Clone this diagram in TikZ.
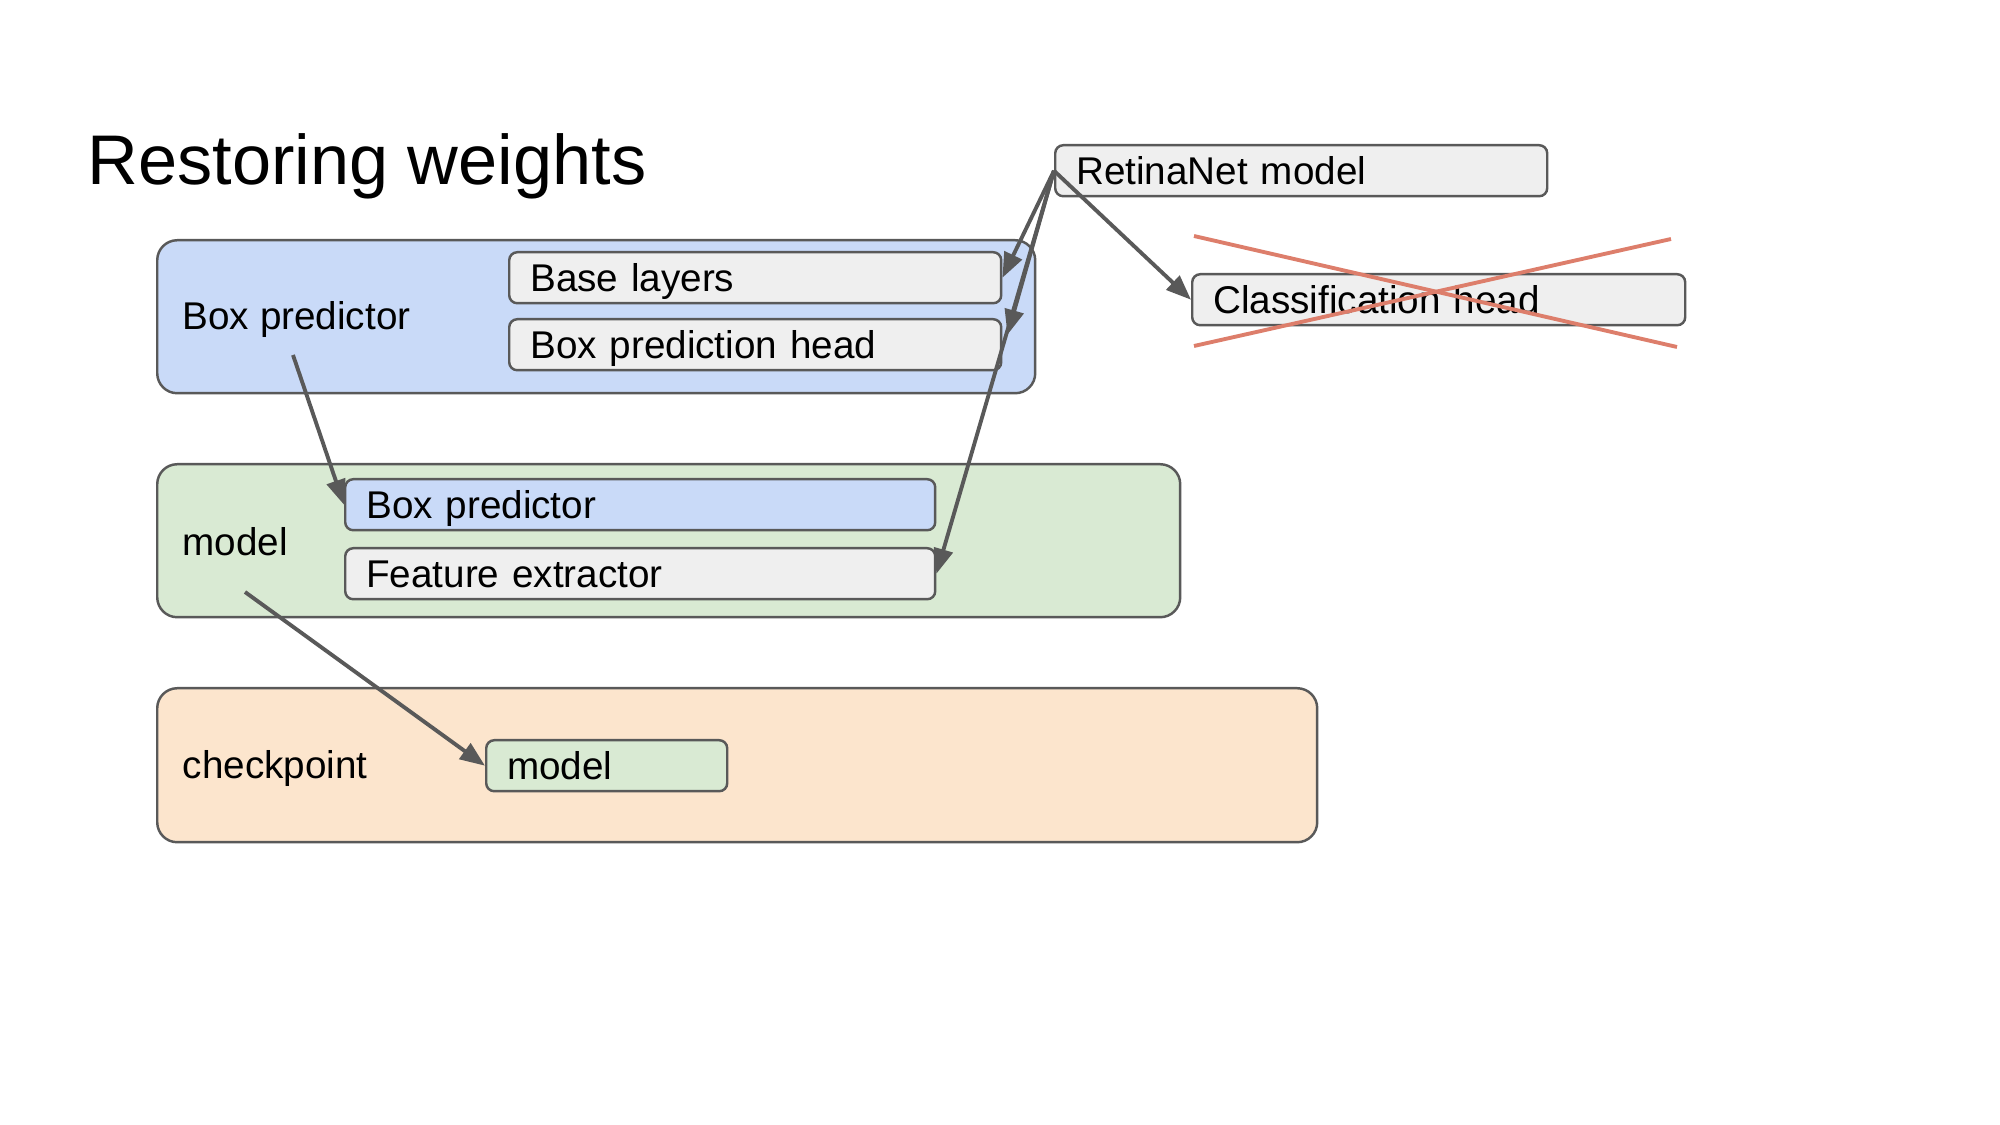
\documentclass[tikz,border=0pt]{standalone}
\usepackage{fontspec}
\setmainfont{Liberation Sans}
\usepackage{xcolor}
\usetikzlibrary{arrows.meta}

\definecolor{edgegray}{HTML}{595959}
\definecolor{boxgray}{HTML}{EFEFEF}
\definecolor{predblue}{HTML}{C9DAF8}
\definecolor{modelgreen}{HTML}{D9EAD3}
\definecolor{ckptorange}{HTML}{FCE5CD}
\definecolor{crossred}{HTML}{DD7E6B}
\newcommand{\boxfont}{\fontsize{11}{13}\selectfont}

\begin{document}
\begin{tikzpicture}[x=0.1mm, y=-0.1mm,
    group/.style={draw=edgegray, line width=0.7pt, rounded corners=2mm, anchor=north west, inner sep=0pt},
    layer/.style={draw=edgegray, fill=boxgray, line width=0.7pt, rounded corners=0.8mm, anchor=north west,
      minimum height=5.1mm, inner xsep=2.1mm, inner ysep=0pt, text height=2.77mm, text depth=0pt,
      align=left, font=\boxfont},
    lbl/.style={anchor=base west, inner sep=0pt, font=\boxfont},
    wire/.style={draw=edgegray, line width=1.1pt, -{Triangle[length=2.5mm, width=1.9mm]}}]
    \useasboundingbox (0, 0) rectangle (2000, 1125);
    % Title:
    \node[anchor=base west, inner sep=0pt, font=\fontsize{20}{24}\selectfont](T) at (87, 185){Restoring weights};
    % Containers and nodes:
    \node[group, fill=predblue, minimum width=87.8mm, minimum height=15.3mm](BP) at (156, 239){};
    \node[lbl](BPl) at (182, 330){Box predictor};
    \node[layer, text width=45mm](BL) at (508, 251){Base layers};
    \node[layer, text width=45mm](BH) at (508, 318){Box prediction head};
    \node[group, fill=modelgreen, minimum width=102.3mm, minimum height=15.3mm](M) at (156, 463){};
    \node[lbl](Ml) at (182, 556){model};
    \node[layer, fill=predblue, text width=54.8mm](MBP) at (344, 478){Box predictor};
    \node[layer, text width=54.8mm](FE) at (344, 547){Feature extractor};
    \node[group, fill=ckptorange, minimum width=116mm, minimum height=15.4mm](C) at (156, 687){};
    \node[lbl](Cl) at (182, 779){checkpoint};
    \node[layer, fill=modelgreen, text width=19.9mm](CM) at (485, 739){model};
    \node[layer, text width=45mm](RN) at (1054, 144){RetinaNet model};
    \node[layer, text width=45.1mm](CH) at (1191, 273){Classification head};
    % Wires:
    \coordinate (BPo) at (293, 355);
    \coordinate (Mo) at (245, 592);
    \draw[wire] (BPo) -- (MBP.west);
    \draw[wire] (Mo) -- (CM.west);
    \draw[wire] (RN.west) -- (BL.east);
    \draw[wire] (RN.west) -- ([xshift=0.5mm, yshift=1mm]BH.east);
    \draw[wire] (RN.west) -- (FE.east);
    \draw[wire] (RN.west) -- (CH.west);
    % Crossed out:
    \draw[crossred, line width=1.1pt] (1194, 236) -- (1677, 347);
    \draw[crossred, line width=1.1pt] (1194, 346) -- (1671, 239);
  \end{tikzpicture}
\end{document}
